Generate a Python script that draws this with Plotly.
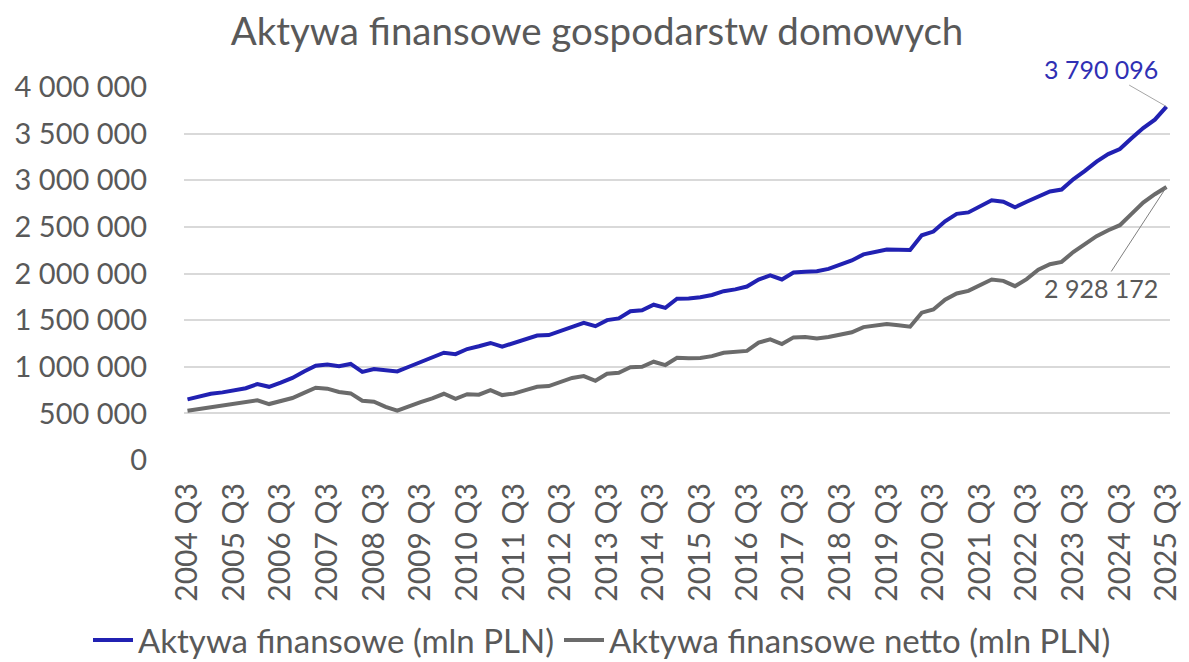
import plotly.graph_objects as go

# Quarters 2004 Q3 .. 2025 Q3
quarters = []
for y in range(2004, 2026):
    for q in (1, 2, 3, 4):
        if (y == 2004 and q < 3) or (y == 2025 and q > 3):
            continue
        quarters.append(f"{y} Q{q}")

tick_labels = [f"{y} Q3" for y in range(2004, 2026)]

# Aktywa finansowe (mln PLN) (in thousands)
aktywa_k = [650, 680, 710, 725, 750, 770, 815, 785, 830, 880,
            950, 1010, 1025, 1005, 1030, 945, 975, 960, 950, 1000,
            1050, 1090, 1150, 1135, 1190, 1220, 1255, 1215, 1255, 1305,
            1335, 1340, 1380, 1430, 1470, 1435, 1500, 1518, 1595, 1605,
            1665, 1632, 1730, 1732, 1745, 1770, 1810, 1830, 1860, 1935,
            1980, 1936, 2010, 2020, 2025, 2050, 2095, 2140, 2205, 2230,
            2257, 2255, 2252, 2410, 2450, 2560, 2640, 2655, 2720, 2785,
            2770, 2710, 2770, 2830, 2880, 2900, 3010, 3100, 3200, 3280,
            3335, 3450, 3560, 3650, 3790.096]

# Aktywa finansowe netto (mln PLN)
netto_k = [528, 545, 565, 585, 600, 615, 640, 600, 630, 665,
           720, 775, 765, 730, 714, 636, 625, 570, 530, 580,
           620, 660, 710, 655, 705, 700, 750, 696, 712, 750,
           786, 793, 840, 880, 900, 850, 925, 936, 995, 1000,
           1054, 1018, 1096, 1090, 1095, 1114, 1150, 1155, 1170, 1260,
           1293, 1243, 1315, 1320, 1304, 1320, 1345, 1370, 1425, 1440,
           1457, 1445, 1429, 1580, 1614, 1720, 1786, 1814, 1870, 1936,
           1921, 1864, 1940, 2040, 2100, 2125, 2230, 2310, 2400, 2464,
           2518, 2640, 2760, 2850, 2928.172]

aktywa = [round(v * 1000) for v in aktywa_k]
netto = [round(v * 1000) for v in netto_k]

y_ticks = [0, 500000, 1000000, 1500000, 2000000, 2500000, 3000000, 3500000, 4000000]
y_tick_text = ["0", "500 000", "1 000 000", "1 500 000", "2 000 000",
               "2 500 000", "3 000 000", "3 500 000", "4 000 000"]

BLUE = "#2121B2"
GRAY = "#6B6B6B"
TXT = "#595959"
FONT = "Lato, Open Sans, sans-serif"

W, H = 1181, 654   # page body has an 8px margin
L, T, R, B = 176, 79, 19, 202
plot_h = H - T - B
plot_w = W - L - R

x_idx = list(range(len(quarters)))
tick_vals = [quarters.index(t) for t in tick_labels]

def fmt(v):
    return f"{v:,}".replace(",", " ")

fig = go.Figure()
fig.add_trace(go.Scatter(x=x_idx, y=aktywa, mode="lines",
                         name="Aktywa finansowe (mln PLN)",
                         line=dict(color=BLUE, width=4)))
fig.add_trace(go.Scatter(x=x_idx, y=netto, mode="lines",
                         name="Aktywa finansowe netto (mln PLN)",
                         line=dict(color=GRAY, width=4)))

last = len(x_idx) - 1
fig.add_annotation(x=last, y=aktywa[-1], text=fmt(aktywa[-1]),
                   showarrow=True, arrowhead=0, arrowwidth=1, arrowcolor="#A6A6A6",
                   ax=-66, ay=-38, font=dict(family=FONT, size=25, color="#3030B4"))
fig.add_annotation(x=last, y=netto[-1], text=fmt(netto[-1]),
                   showarrow=True, arrowhead=0, arrowwidth=1, arrowcolor="#7F7F7F",
                   ax=-66, ay=101, font=dict(family=FONT, size=25, color=TXT))

fig.update_layout(
    width=W, height=H,
    paper_bgcolor="white", plot_bgcolor="white",
    margin=dict(l=L, r=R, t=T, b=B, autoexpand=False),
    title=dict(text="Aktywa finansowe gospodarstw domowych",
               x=589 / W, xref="container", xanchor="center",
               y=1 - 24 / H, yref="container", yanchor="middle",
               font=dict(family=FONT, size=38.5, color=TXT)),
    font=dict(family=FONT, color=TXT),
    showlegend=True,
    legend=dict(orientation="h", x=(80 - L) / plot_w, xref="paper", xanchor="left",
                y=-(632 - (H - B)) / plot_h, yref="paper", yanchor="middle",
                font=dict(family=FONT, size=33, color=TXT),
                itemwidth=40, tracegroupgap=0, bgcolor="rgba(0,0,0,0)"),
    xaxis=dict(range=[-0.3, last + 0.3], tickmode="array", automargin=False,
               tickvals=tick_vals, ticktext=tick_labels, tickangle=-90,
               showgrid=False, zeroline=False, showline=False,
               ticks="outside", ticklen=10, tickcolor="rgba(0,0,0,0)",
               tickfont=dict(family=FONT, size=30, color=TXT)),
    yaxis=dict(range=[0, 4000000], tickmode="array", automargin=False,
               tickvals=y_ticks, ticktext=y_tick_text,
               showgrid=True, gridcolor="#D9D9D9", gridwidth=1.5,
               zeroline=False, showline=False,
               ticks="outside", ticklen=30, tickcolor="rgba(0,0,0,0)",
               tickfont=dict(family=FONT, size=29, color=TXT)),
)

fig.write_html("out.html")
